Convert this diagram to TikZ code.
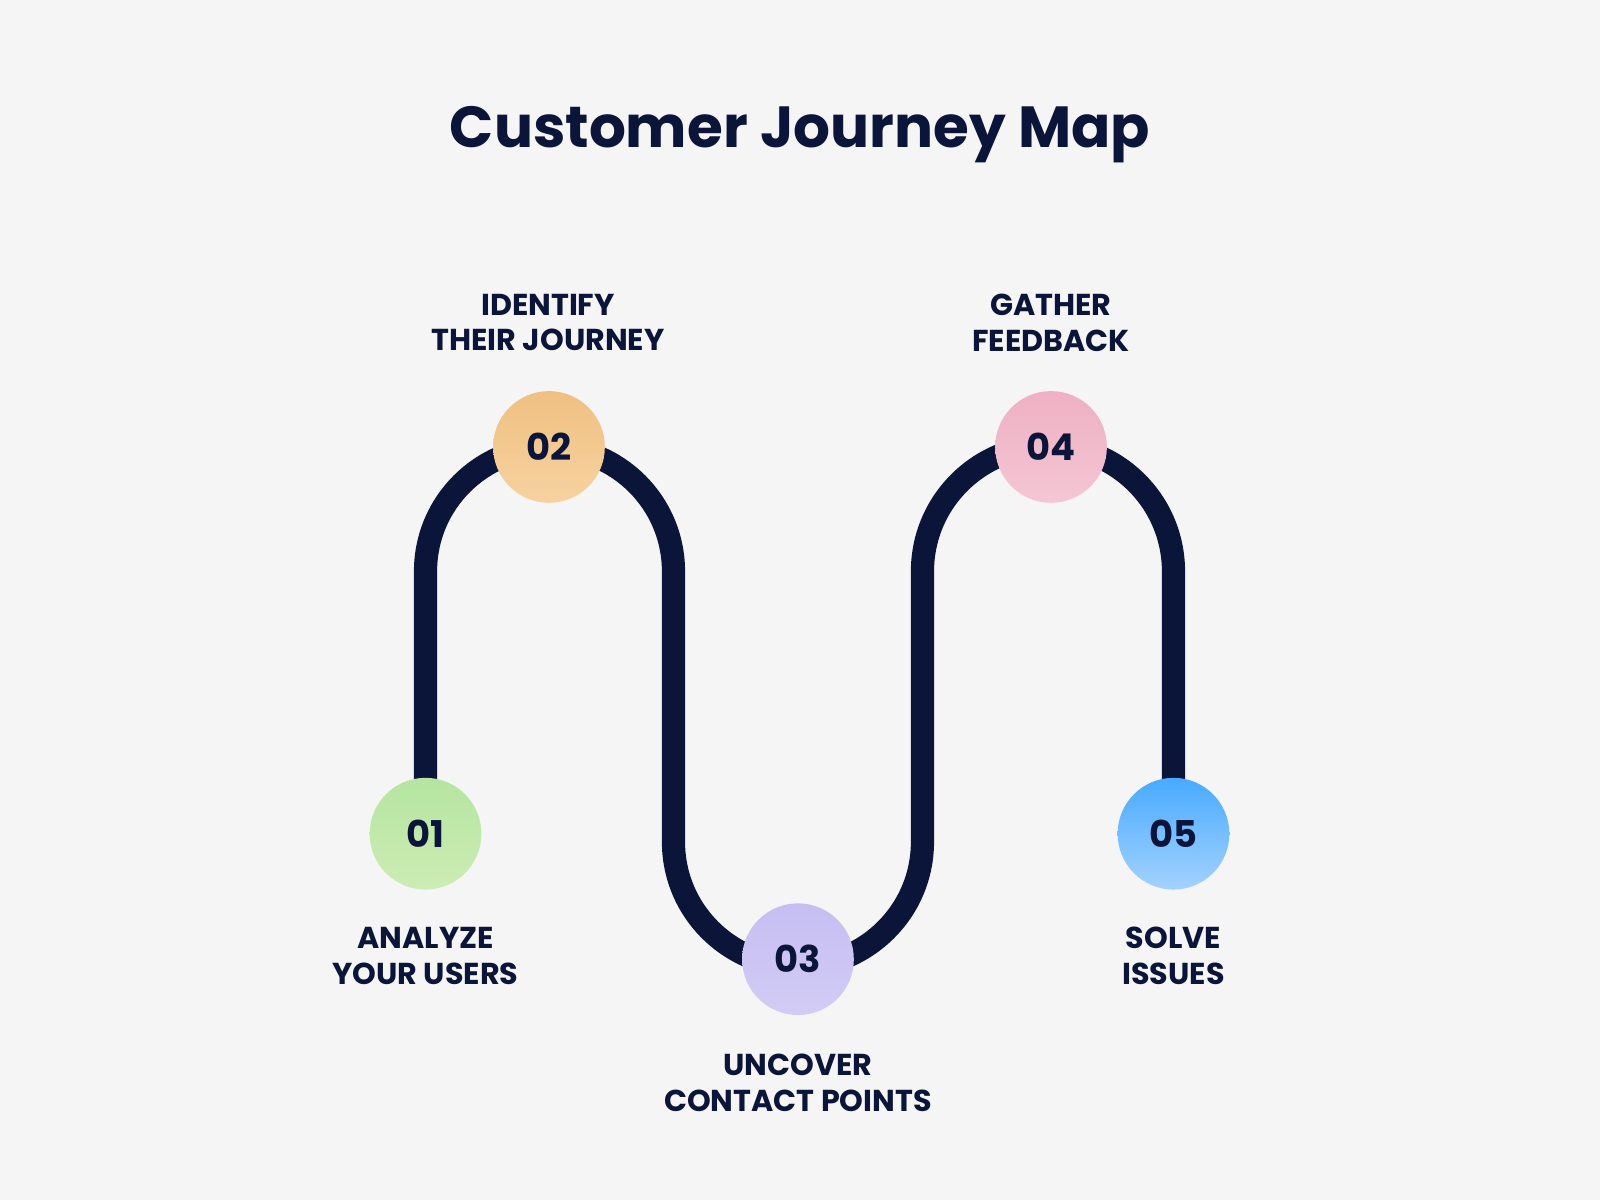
\documentclass[tikz,border=0pt]{standalone}
\usepackage{fontspec}
\setmainfont{Poppins}
\begin{document}
\begin{tikzpicture}[x=0.010204cm,y=-0.010204cm,
  stepc/.style={circle,minimum size=31.8pt,inner sep=0,font=\fontsize{10.5}{12}\selectfont\bfseries,text=navy},
  lbl/.style={align=center,font=\fontsize{8.6}{10.2}\selectfont\bfseries,text=navy}]
\definecolor{navy}{HTML}{0B1539}
\definecolor{bg}{HTML}{F5F5F5}
\fill[bg] (0,0) rectangle (1568,1176);
\useasboundingbox (0,0) rectangle (1568,1176);
\node[text=navy,font=\fontsize{16.5}{20}\selectfont\bfseries] (title) at (784,132) {Customer Journey Map};
\coordinate (s) at (417,817);
\coordinate (e) at (1150,817);
\draw[navy,line width=6.6pt] (s) -- (417,560) arc[start angle=180,end angle=360,radius=121.5]
  -- (660,825) arc[start angle=180,end angle=0,radius=122] -- (904,560)
  arc[start angle=180,end angle=360,radius=123] -- (e);
\node[stepc,top color={rgb,255:red,181;green,229;blue,160},bottom color={rgb,255:red,204;green,236;blue,180}] (n1) at (s) {01};
\node[stepc,top color={rgb,255:red,240;green,192;blue,130},bottom color={rgb,255:red,246;green,210;blue,160}] (n2) at (538,438) {02};
\node[stepc,top color={rgb,255:red,198;green,190;blue,242},bottom color={rgb,255:red,210;green,204;blue,246}] (n3) at (782,940) {03};
\node[stepc,top color={rgb,255:red,238;green,176;blue,196},bottom color={rgb,255:red,244;green,198;blue,212}] (n4) at (1030,438) {04};
\node[stepc,top color={rgb,255:red,72;green,170;blue,255},bottom color={rgb,255:red,164;green,210;blue,255}] (n5) at (e) {05};
\node[lbl] (l1) at (417,937) {ANALYZE\\YOUR USERS};
\node[lbl] (l2) at (537,316) {IDENTIFY\\THEIR JOURNEY};
\node[lbl] (l3) at (782,1061) {UNCOVER\\CONTACT POINTS};
\node[lbl] (l4) at (1030,316) {GATHER\\FEEDBACK};
\node[lbl] (l5) at (1150,937) {SOLVE\\ISSUES};
\end{tikzpicture}
\end{document}
